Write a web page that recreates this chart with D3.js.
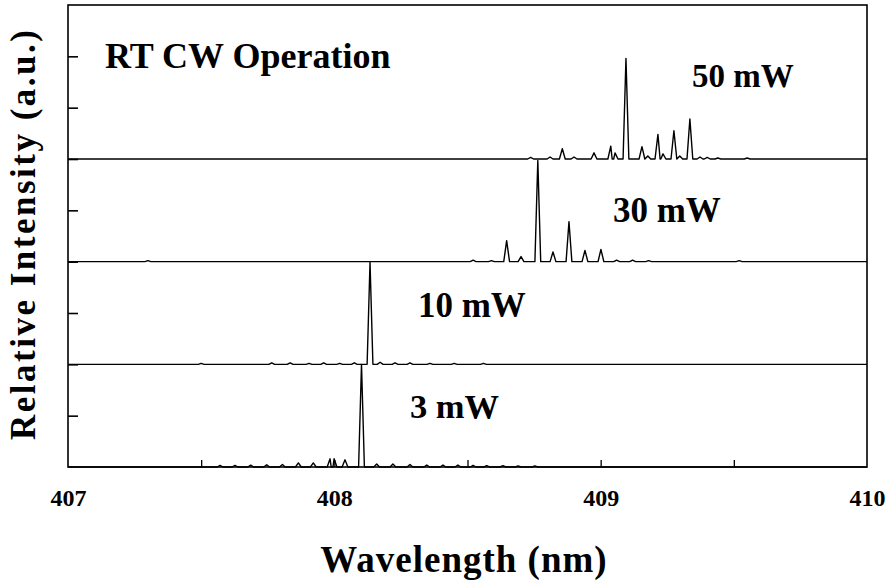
<!DOCTYPE html>
<html>
<head>
<meta charset="utf-8">
<script src="https://cdn.jsdelivr.net/npm/d3@7/dist/d3.min.js"></script>
<style>
  html, body { margin: 0; padding: 0; background: #fff; }
  svg { display: block; }
  text { font-family: "Liberation Serif", "Times New Roman", serif; font-weight: bold; fill: #000; }
</style>
</head>
<body>
<svg id="chart" width="890" height="585"></svg>
<script>
// Axis ticks
const xTickLabels = [407, 408, 409, 410];
const xTicks = [407.5, 408, 408.5, 409, 409.5];
const yTicks = [1, 2, 3, 4, 5, 6, 7, 8];

// Spectra: output power, vertical offset of each trace, and its peaks [wavelength nm, relative intensity]
const powers = ["3 mW", "10 mW", "30 mW", "50 mW"];
const offsets = [0, 2, 4, 6];

const peaks3mW = [
  [407.571, 0.03], [407.627, 0.03], [407.686, 0.035], [407.746, 0.045], [407.805, 0.05],
  [407.865, 0.08], [407.921, 0.08], [407.984, 0.16], [407.999, 0.16], [408.040, 0.14],
  [408.102, 2.00], [408.159, 0.06], [408.220, 0.06], [408.284, 0.05], [408.347, 0.04],
  [408.408, 0.04], [408.464, 0.04], [408.521, 0.03], [408.572, 0.025], [408.633, 0.025],
  [408.690, 0.02], [408.753, 0.02]
];
const peaks10mW = [
  [407.500, 0.02], [407.765, 0.03], [407.834, 0.03], [407.905, 0.02], [407.960, 0.03],
  [408.020, 0.02], [408.075, 0.03], [408.134, 1.99], [408.172, 0.04], [408.228, 0.03],
  [408.284, 0.03], [408.359, 0.02], [408.450, 0.02], [408.560, 0.02]
];
const peaks30mW = [
  [407.300, 0.02], [408.521, 0.03], [408.590, 0.02], [408.647, 0.41], [408.701, 0.10],
  [408.764, 1.97], [408.821, 0.19], [408.881, 0.78], [408.941, 0.22], [409.001, 0.24],
  [409.060, 0.03], [409.120, 0.03], [409.180, 0.02], [409.520, 0.02]
];
const peaks50mW = [
  [408.737, 0.03], [408.810, 0.04], [408.856, 0.20], [408.900, 0.04], [408.975, 0.12],
  [409.038, 0.25], [409.054, 0.12], [409.095, 1.96], [409.155, 0.24], [409.177, 0.06],
  [409.215, 0.48], [409.234, 0.10], [409.275, 0.55], [409.297, 0.06], [409.335, 0.78],
  [409.373, 0.04], [409.400, 0.03], [409.440, 0.02], [409.550, 0.02]
];
const spectra = [peaks3mW, peaks10mW, peaks30mW, peaks50mW];

const svg = d3.select("#chart");
const margin = { left: 68, right: 23, top: 5, bottom: 118 };
const W = 890, H = 585;

const x = d3.scaleLinear().domain([407, 410]).range([margin.left, W - margin.right]);
const y = d3.scaleLinear().domain([0, 9]).range([H - margin.bottom, margin.top]);

const g = svg.append("g");

// Inward tick marks on the left axis
const yAxis = d3.axisLeft(y).tickValues(yTicks).tickSize(-10).tickFormat("");
g.append("g").attr("transform", `translate(${x(407)},0)`).call(yAxis)
  .call(s => s.select(".domain").remove())
  .selectAll("line").attr("stroke", "#000").attr("stroke-width", 1.6);

// Inward tick marks on the bottom axis
const xAxis = d3.axisBottom(x).tickValues(xTicks).tickSize(-7).tickFormat("");
g.append("g").attr("transform", `translate(0,${y(0)})`).call(xAxis)
  .call(s => s.select(".domain").remove())
  .selectAll("line").attr("stroke", "#000").attr("stroke-width", 1.3);

// Tick labels below the frame
const xLabelAxis = d3.axisBottom(x).tickValues(xTickLabels).tickSize(0).tickPadding(22).tickFormat(d3.format("d"));
g.append("g").attr("transform", `translate(0,${y(0)})`).call(xLabelAxis)
  .call(s => s.select(".domain").remove())
  .selectAll("text")
  .style("font-family", "'Liberation Serif', serif")
  .style("font-weight", "bold")
  .style("font-size", "24px")
  .attr("fill", "#000");

// Spectral traces: a baseline for each power level with its peaks on top
const hw = 2.9;
spectra.forEach((peaks, i) => {
  const base = y(offsets[i]);
  const pts = [[x(407), base]];
  peaks.forEach(([w, v]) => {
    const px = x(w);
    pts.push([px - hw, base], [px, y(offsets[i] + v)], [px + hw, base]);
  });
  pts.push([x(410), base]);
  pts.sort((a, b) => a[0] - b[0]);
  g.append("path")
    .attr("d", d3.line()(pts))
    .attr("fill", "none")
    .attr("stroke", "#000")
    .attr("stroke-width", 1.4)
    .attr("stroke-linejoin", "round");
});

// Frame
g.append("rect")
  .attr("x", x(407)).attr("y", y(9))
  .attr("width", x(410) - x(407)).attr("height", y(0) - y(9))
  .attr("fill", "none").attr("stroke", "#000").attr("stroke-width", 1.6);

// Power labels next to each trace
const labelPos = [[408.284, 0.95], [408.314, 2.92], [409.046, 4.77], [409.343, 7.40]];
const labelSize = [34.5, 35, 35, 33];
powers.forEach((p, i) => {
  g.append("text")
    .attr("x", x(labelPos[i][0]))
    .attr("y", y(labelPos[i][1]))
    .attr("font-size", labelSize[i])
    .text(p);
});

g.append("text")
  .attr("x", 105).attr("y", 68)
  .attr("font-size", 36)
  .text("RT CW Operation");

// Axis titles
g.append("text")
  .attr("x", 464).attr("y", 572)
  .attr("text-anchor", "middle")
  .attr("font-size", 37)
  .attr("letter-spacing", 1)
  .text("Wavelength (nm)");

g.append("text")
  .attr("transform", `translate(35,235) rotate(-90)`)
  .attr("text-anchor", "middle")
  .attr("font-size", 35)
  .attr("textLength", 410)
  .attr("lengthAdjust", "spacing")
  .text("Relative Intensity (a.u.)");
</script>
</body>
</html>
